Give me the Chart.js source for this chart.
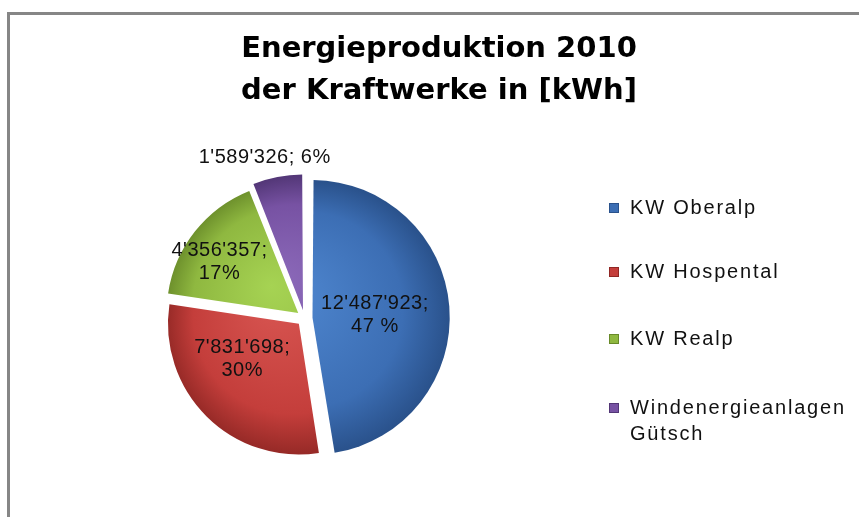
<!DOCTYPE html>
<html lang="de">
<head>
  <meta charset="UTF-8" />
  <title>Energieproduktion 2010</title>
  <script src="https://cdn.jsdelivr.net/npm/chart.js@4.4.0"></script>
  <style>
    body { margin: 0; background: #fff; overflow: hidden; }
    #frame {
      position: absolute; left: 7px; top: 12px;
      width: 1000px; height: 1000px;
      border: 3px solid #868686; box-sizing: border-box;
    }
    #energyChart { position: absolute; left: 0; top: 0; }
  </style>
</head>
<body>
  <div id="frame"></div>
  <canvas id="energyChart" width="859" height="517"></canvas>

  <script>
    const titleLines = ['Energieproduktion 2010', 'der Kraftwerke in [kWh]'];
    const plants = ['KW Oberalp', 'KW Hospental', 'KW Realp', 'Windenergieanlagen Gütsch'];
    const legendLines = [['KW Oberalp'], ['KW Hospental'], ['KW Realp'], ['Windenergieanlagen', 'Gütsch']];
    const production = [12487923, 7831698, 4356357, 1589326];
    const percentLabels = ['47 %', '30%', '17%', '6%'];

    // light / base / dark per slice (Excel 2007 style shading)
    const sliceColors = [
      ['#4f87d0', '#3c6eb4', '#2a528c'],
      ['#d85652', '#c43e3b', '#902724'],
      ['#a6d353', '#8fb840', '#688a29'],
      ['#8c6aba', '#7752a3', '#523676']
    ];

    const fmt = v => String(v).replace(/\B(?=(\d{3})+(?!\d))/g, "'");

    const labelText = [
      [fmt(production[0]) + ';', percentLabels[0]],
      [fmt(production[1]) + ';', percentLabels[1]],
      [fmt(production[2]) + ';', percentLabels[2]],
      [fmt(production[3]) + '; ' + percentLabels[3]]
    ];
    // label placement: fraction of radius, angle nudge in degrees
    const labelRadius = [0.54, 0.57, 0.78, 1.27];
    const labelShift = [2, 12, -5, -3];

    const decorPlugin = {
      id: 'decor',
      afterDraw(chart) {
        const ctx = chart.ctx;
        ctx.save();

        // title
        ctx.fillStyle = '#000';
        ctx.textAlign = 'center';
        ctx.textBaseline = 'alphabetic';
        ctx.font = 'bold 29px "DejaVu Sans"';
        ctx.fillText(titleLines[0], 439, 57);
        ctx.fillText(titleLines[1], 439, 99);

        // slice labels
        const arcs = chart.getDatasetMeta(0).data;
        ctx.font = '20px "Liberation Sans", Arial, sans-serif';
        ctx.letterSpacing = '0.5px';
        ctx.textBaseline = 'middle';
        ctx.fillStyle = '#111';
        arcs.forEach((arc, i) => {
          const mid = (arc.startAngle + arc.endAngle) / 2 + labelShift[i] * Math.PI / 180;
          const d = arc.outerRadius * labelRadius[i];
          const x = arc.x + Math.cos(mid) * d;
          const y = arc.y + Math.sin(mid) * d;
          const lines = labelText[i];
          lines.forEach((t, k) => {
            ctx.fillText(t, x, y + (k - (lines.length - 1) / 2) * 23);
          });
        });

        // legend
        const rows = [208, 272, 339, 408];
        ctx.textAlign = 'left';
        ctx.letterSpacing = '1.8px';
        legendLines.forEach((lines, i) => {
          const y = rows[i];
          ctx.fillStyle = sliceColors[i][1];
          ctx.fillRect(609, y - 5, 10, 10);
          ctx.strokeStyle = sliceColors[i][2];
          ctx.lineWidth = 1;
          ctx.strokeRect(609.5, y - 4.5, 9, 9);
          ctx.fillStyle = '#111';
          lines.forEach((t, k) => ctx.fillText(t, 630, y + k * 26));
        });

        ctx.restore();
      }
    };

    const ctx = document.getElementById('energyChart').getContext('2d');
    new Chart(ctx, {
      type: 'pie',
      data: {
        labels: plants,
        datasets: [{
          data: production,
          backgroundColor: function(context) {
            const c = sliceColors[context.dataIndex];
            const area = context.chart.chartArea;
            if (!area) return c[1];
            const cx = (area.left + area.right) / 2;
            const cy = (area.top + area.bottom) / 2;
            const r = 136;
            const g = context.chart.ctx.createRadialGradient(cx - r * 0.2, cy - r * 0.2, 0, cx, cy, r);
            g.addColorStop(0, c[0]);
            g.addColorStop(0.72, c[1]);
            g.addColorStop(1, c[2]);
            return g;
          },
          borderWidth: 0,
          offset: 32
        }]
      },
      options: {
        responsive: false,
        animation: false,
        layout: {
          padding: { left: 158, right: 408, top: 171, bottom: 52 }
        },
        plugins: {
          legend: { display: false },
          title: { display: false },
          tooltip: { enabled: false }
        }
      },
      plugins: [decorPlugin]
    });
  </script>
</body>
</html>
